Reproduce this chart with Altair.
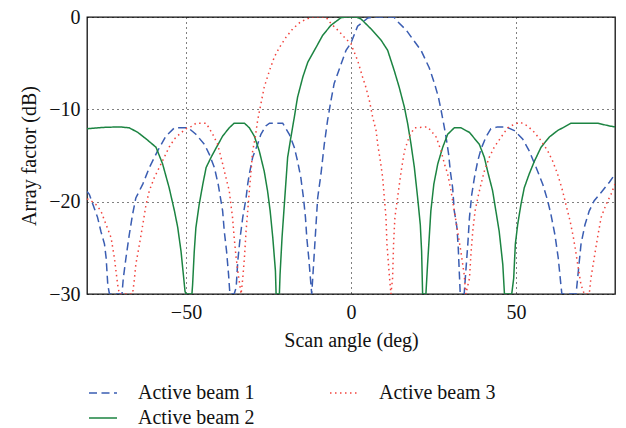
import altair as alt
import pandas as pd

# ---- Data ----
beam1_x = [-80, -79.3, -77.8, -76.8, -75.8, -74.7, -74.2, -73.7, -73.2, -69.4, -69.0, -68.2, -67.2, -66.2,
           -65.2, -63.1, -61.1, -58.6, -56.1, -53.5, -50.0, -49.0, -47.0, -44.4, -42.9, -41.4, -40.2, -38.9,
           -38.4, -37.7, -37.1, -36.7, -35.4, -34.8, -34.3, -33.6, -32.8, -31.8, -31.3, -30.8, -29.8, -28.3,
           -27.3, -25.8, -24.7, -20.7, -20.2, -18.7, -17.2, -16.2, -15.2, -14.4, -13.8, -13.4, -12.8, -12.3,
           -11.9, -11.1, -10.6, -10.1, -9.1, -8.1, -7.1, -6.1, -5.1, -3.0, -1.5, 0, 2.0, 5.1, 7.0, 13.0,
           14.1, 16.7, 18.7, 21.2, 23.7, 25.3, 26.5, 27.3, 28.1, 28.8, 29.6, 30.1, 30.8, 31.3, 32.1, 32.5,
           32.8, 33.1, 34.3, 34.8, 35.4, 35.9, 36.6, 37.4, 38.4, 39.4, 40.9, 42.4, 44.4, 47.0, 49.5, 52.0,
           54.0, 56.1, 58.1, 59.6, 60.6, 61.8, 62.8, 63.6, 63.9, 68.2, 68.9, 69.7, 70.9, 72.2, 73.7, 75.8,
           78.3, 80]
beam1_y = [-18.9, -19.2, -20.7, -21.7, -23.2, -24.6, -26.1, -29.0, -30, -30, -28.3, -26.1, -23.6, -21.4,
           -19.6, -18.1, -16.3, -14.5, -12.9, -12.0, -12.0, -12.1, -12.7, -13.8, -14.9, -16.3, -18.2, -21.0,
           -23.2, -25.4, -27.9, -30, -30, -29.3, -26.4, -23.9, -21.7, -19.6, -18.1, -17.0, -15.2, -13.8,
           -12.7, -11.8, -11.5, -11.5, -11.8, -12.7, -14.1, -15.6, -17.4, -19.6, -21.7, -23.9, -26.1, -28.3,
           -30, -25.4, -22.5, -19.6, -17.0, -13.8, -11.2, -9.1, -7.2, -5.1, -3.6, -2.8, -1.0, -0.1, 0, 0,
           -0.5, -1.4, -2.4, -3.6, -5.5, -7.2, -8.7, -10.1, -11.6, -13.0, -14.9, -16.7, -18.5, -21.0, -22.8, -25.0,
           -27.5, -30, -30, -27.5, -24.6, -21.7, -19.2, -17.4, -15.6, -14.3, -13.0, -12.1, -11.9, -11.9, -12.3, -13.2,
           -14.5, -16.3, -18.1, -19.9, -21.4, -23.6, -26.1, -29.0, -30, -30, -27.5, -24.6, -22.5, -21.0, -19.9, -19.0,
           -17.9, -17.0]

beam2_x = [-80, -75.2, -70.2, -67.2, -64.6, -62.1, -59.1, -57.1, -55.1, -53.5, -52.5, -51.5, -50.8, -50.3,
           -50.0, -48.2, -48.0, -47.5, -47.0, -46.0, -44.9, -43.9, -42.4, -40.9, -38.9, -36.9, -35.4, -32.3,
           -30.8, -29.3, -27.8, -26.3, -25.3, -24.5, -23.7, -22.9, -22.7, -21.7, -21.5, -20.9, -20.2, -19.2,
           -18.2, -17.2, -16.2, -14.6, -13.1, -10.6, -8.6, -6.1, -3.0, -1.5, 0, 1.5, 3.0, 6.1, 9.1, 11.1,
           13.1, 14.6, 16.2, 17.2, 18.2, 19.2, 20.2, 21.0, 21.4, 21.7, 22.7, 23.2, 23.7, 24.2, 25.1, 26.3,
           27.8, 29.3, 31.3, 33.3, 35.9, 38.9, 40.4, 41.4, 42.9, 43.9, 44.9, 46.0, 46.5, 48.7, 49.3, 49.8,
           50.5, 51.5, 52.5, 54.0, 55.6, 57.6, 60.1, 62.6, 65.2, 66.7, 74.7, 78.3, 80]
beam2_y = [-12.1, -11.96, -11.9, -12.0, -12.5, -13.2, -14.1, -15.9, -18.5, -21.0, -22.8, -25.4, -27.9, -29.7,
           -30, -30, -29.0, -25.4, -22.8, -20.3, -18.1, -16.3, -15.2, -14.2, -12.9, -12.0, -11.5, -11.5,
           -12.0, -12.9, -14.5, -16.7, -18.8, -21.0, -23.9, -27.5, -30, -30, -27.9, -23.9, -20.3, -15.2,
           -13.0, -10.9, -8.7, -6.5, -4.9, -3.3, -2.0, -0.9, -0.07, 0, 0, 0, -0.2, -1.3, -2.5, -3.6,
           -5.8, -7.6, -9.8, -11.6, -13.8, -16.3, -19.6, -22.5, -25.4, -30, -30, -26.8, -23.9, -21.0, -18.1, -15.9,
           -14.1, -12.7, -12.0, -12.0, -12.5, -13.8, -15.2, -16.7, -18.8, -21.0, -23.2, -26.8, -30, -30, -28.3, -24.6,
           -22.5, -20.3, -18.5, -17.0, -15.6, -14.1, -13.0, -12.3, -11.8, -11.5, -11.5, -11.8, -11.9]

beam3_x = [-80, -78.8, -77.3, -75.8, -74.2, -72.7, -71.7, -70.7, -70.2, -66.2, -65.7, -65.2, -64.1, -63.1,
           -62.1, -61.1, -59.6, -58.1, -56.6, -55.1, -53.5, -52.0, -50.0, -48.0, -47.0, -43.9, -41.9, -40.4,
           -39.9, -38.9, -37.9, -36.9, -36.4, -35.9, -35.4, -34.8, -34.0, -33.3, -32.8, -32.3, -31.8, -31.3,
           -30.8, -30.3, -29.8, -29.0, -28.3, -27.3, -26.3, -24.7, -23.2, -21.7, -19.7, -17.7, -15.2, -12.6,
           -12.0, -7.6, -6.1, -3.5, -2.0, 0, 0.5, 2.0, 3.5, 4.5, 5.6, 6.6, 7.6, 8.1, 8.9, 9.6, 10.1, 10.6,
           10.9, 11.6, 12.1, 12.6, 12.9, 13.3, 14.1, 15.2, 16.2, 17.7, 19.2, 23.2, 24.2, 25.8, 27.3, 28.3,
           29.3, 30.3, 31.3, 32.3, 33.3, 34.3, 34.8, 35.9, 36.4, 36.9, 37.6, 38.4, 39.4, 40.4, 41.9, 43.4,
           45.5, 47.5, 49.5, 51.3, 53.5, 55.6, 57.6, 59.6, 61.1, 62.6, 64.1, 65.4, 66.4, 67.4, 68.1, 68.7,
           69.7, 70.7, 72.2, 72.7, 73.7, 74.7, 75.8, 77.3, 78.8, 80]
beam3_y = [-19.7, -19.9, -20.3, -21.0, -22.5, -23.9, -26.1, -29.0, -30, -30, -28.6, -26.8, -24.6, -22.5,
           -20.3, -18.8, -17.4, -16.3, -15.2, -14.1, -13.2, -12.7, -12.1, -11.8, -11.5, -11.5, -12.7, -13.8,
           -14.5, -15.9, -17.4, -18.8, -20.3, -21.7, -23.9, -26.1, -28.3, -30, -28.3, -26.1, -23.2, -21.0,
           -18.8, -16.7, -14.5, -13.0, -11.2, -9.4, -7.6, -5.8, -4.3, -3.3, -2.2, -1.3, -0.5, -0.1,
           0, 0, -0.7, -1.6, -2.2, -2.9, -3.4, -4.7, -6.5, -7.6, -9.1, -10.9, -12.3, -13.8, -15.6, -17.4, -19.6, -21.7,
           -24.6, -27.9, -30, -28.3, -24.6, -21.7, -19.6, -16.7, -14.5, -12.9, -12.0, -11.9, -12.3, -13.0, -14.5, -15.9,
           -17.0, -18.8, -21.0, -23.2, -25.4, -27.9, -30, -28.3, -25.4, -23.2, -21.0, -19.6, -18.1, -16.7, -15.2, -14.1,
           -13.0, -12.0, -11.6, -11.4, -11.8, -12.5, -13.4, -14.5, -15.6, -17.0, -18.8, -20.7, -22.1, -23.9, -25.4, -26.8,
           -29.0, -30, -30, -28.3, -26.1, -23.9, -21.7, -20.3, -19.2, -18.1]

series_names = ["Active beam 1", "Active beam 2", "Active beam 3"]
series_colors = ["#3a5db2", "#1c8442", "#f2433d"]
series_dashes = [[8, 4.5], [1, 0], [1.5, 3.5]]

x_ticks = [-50, 0, 50]
y_ticks = [-30, -20, -10, 0]

frames = []
for name, xs, ys in [("Active beam 1", beam1_x, beam1_y),
                     ("Active beam 2", beam2_x, beam2_y),
                     ("Active beam 3", beam3_x, beam3_y)]:
    frames.append(pd.DataFrame({"angle": xs, "af": ys, "beam": name}))
df = pd.concat(frames, ignore_index=True)

FONT = "Liberation Serif"
FS = 20

chart = alt.Chart(df).mark_line(strokeWidth=1.5, clip=True).encode(
    x=alt.X("angle:Q", scale=alt.Scale(domain=[-80, 80], nice=False, zero=False),
            axis=alt.Axis(values=x_ticks, title="Scan angle (deg)", labelPadding=8, titlePadding=8)),
    y=alt.Y("af:Q", scale=alt.Scale(domain=[-30, 0], nice=False, zero=False),
            axis=alt.Axis(values=y_ticks, title="Array factor (dB)", labelPadding=7, titlePadding=9)),
    color=alt.Color("beam:N", scale=alt.Scale(domain=series_names, range=series_colors),
                    legend=alt.Legend(title=None, orient="none", legendX=1, legendY=361,
                                      columns=2, columnPadding=72, rowPadding=0,
                                      symbolType="stroke", symbolSize=784, symbolStrokeWidth=1.5,
                                      labelFont=FONT, labelFontSize=FS, labelColor="#111",
                                      labelOffset=20)),
    strokeDash=alt.StrokeDash("beam:N", scale=alt.Scale(domain=series_names, range=series_dashes),
                              legend=None),
    order=alt.Order("angle:Q"),
    detail="beam:N",
).properties(
    width=528, height=277,
    autosize=alt.AutoSizeParams(type="none"),
    padding={"left": 87, "top": 17, "right": 11, "bottom": 134},
).configure_view(
    stroke="#111", strokeWidth=1.3
).configure_axis(
    domain=False, ticks=False, grid=True, gridColor="#000", gridDash=[1, 4], gridWidth=1,
    labelFont=FONT, labelFontSize=FS, labelColor="#111",
    titleFont=FONT, titleFontSize=FS, titleFontWeight="normal", titleColor="#111",
)

chart.save("out.html", embed_options={"renderer": "svg", "actions": False})
